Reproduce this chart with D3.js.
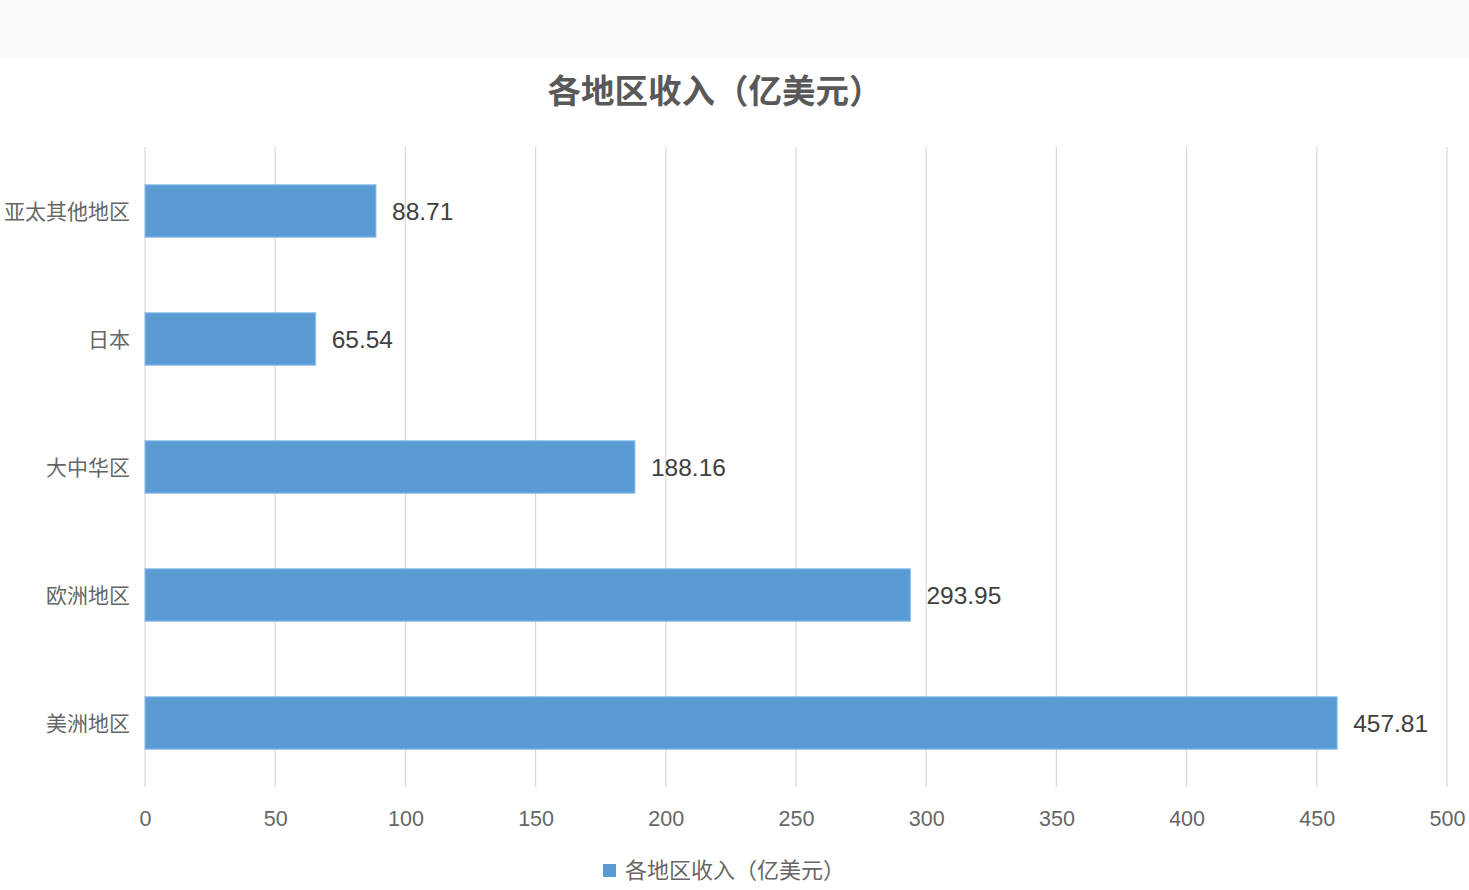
<!DOCTYPE html>
<html>
<head>
<meta charset="utf-8">
<script src="https://cdn.jsdelivr.net/npm/d3@7"></script>
<style>
  html, body { margin: 0; padding: 0; background: #fff; }
  svg { display: block; }
</style>
</head>
<body>
<div id="chart"></div>
<script>
// data, top to bottom as drawn
const regions = ["亚太其他地区", "日本", "大中华区", "欧洲地区", "美洲地区"];
const revenue = [88.71, 65.54, 188.16, 293.95, 457.81];
const xTicks = [0, 50, 100, 150, 200, 250, 300, 350, 400, 450, 500];
const seriesName = "各地区收入（亿美元）";
const chartTitle = "各地区收入（亿美元）";

const width = 1469, height = 890;
const margin = {top: 147, right: 22, bottom: 103, left: 145};
const cjk = "'Noto Sans CJK SC', 'Noto Sans', sans-serif";
const latin = "'Liberation Sans', Arial, sans-serif";

const svg = d3.select("#chart")
    .append("svg")
    .attr("width", width)
    .attr("height", height);

// pale band at the top of the screenshot
svg.append("rect")
    .attr("x", 0).attr("y", 0)
    .attr("width", width).attr("height", 57)
    .attr("fill", "#f9f9f9");

const x = d3.scaleLinear()
    .domain([0, 500])
    .range([margin.left, width - margin.right]);

const y = d3.scaleBand()
    .domain(regions)
    .range([margin.top, height - margin.bottom])
    .paddingInner(0.59)
    .paddingOuter(0.295);

// vertical grid lines
svg.append("g")
    .selectAll("line")
    .data(xTicks)
    .enter()
    .append("line")
    .attr("x1", d => x(d)).attr("x2", d => x(d))
    .attr("y1", margin.top).attr("y2", height - margin.bottom)
    .attr("stroke", "#d9d9d9")
    .attr("stroke-width", 1.2);

// x axis labels
const xAxis = d3.axisBottom(x).tickValues(xTicks).tickSize(0).tickPadding(14);
const gx = svg.append("g")
    .attr("transform", `translate(0,${height - margin.bottom + 10})`)
    .call(xAxis);
gx.select(".domain").remove();
gx.selectAll("text")
    .attr("font-family", latin)
    .attr("font-size", 21.5)
    .attr("fill", "#666");

// y axis labels
const yAxis = d3.axisLeft(y).tickSize(0).tickPadding(15);
const gy = svg.append("g")
    .attr("transform", `translate(${margin.left},0)`)
    .call(yAxis);
gy.select(".domain").remove();
gy.selectAll("text")
    .attr("font-family", cjk)
    .attr("font-size", 21)
    .attr("dy", "0.38em")
    .attr("fill", "#666");

const rows = regions.map((r, i) => ({region: r, value: revenue[i]}));

// bars
svg.append("g")
    .selectAll("rect")
    .data(rows)
    .enter()
    .append("rect")
    .attr("x", x(0))
    .attr("y", d => y(d.region))
    .attr("width", d => x(d.value) - x(0))
    .attr("height", y.bandwidth())
    .attr("fill", "#5b9bd5")
    .attr("stroke", "#8ec3ea")
    .attr("stroke-width", 1);

// value labels
svg.append("g")
    .selectAll("text")
    .data(rows)
    .enter()
    .append("text")
    .attr("x", d => x(d.value) + 16)
    .attr("y", d => y(d.region) + y.bandwidth() / 2)
    .attr("dy", "0.36em")
    .attr("font-family", latin)
    .attr("font-size", 24.5)
    .attr("fill", "#404040")
    .text(d => d.value.toFixed(2));

// title
svg.append("text")
    .attr("x", 715)
    .attr("y", 103)
    .attr("text-anchor", "middle")
    .attr("font-family", cjk)
    .attr("font-size", 33.5)
    .attr("font-weight", "bold")
    .attr("fill", "#595959")
    .text(chartTitle);

// legend
const legend = svg.append("g").attr("transform", "translate(603,864)");
legend.append("rect")
    .attr("width", 13).attr("height", 13)
    .attr("fill", "#5b9bd5");
legend.append("text")
    .attr("x", 22).attr("y", 6.5)
    .attr("dy", "0.36em")
    .attr("font-family", cjk)
    .attr("font-size", 22)
    .attr("fill", "#666")
    .text(seriesName);
</script>
</body>
</html>
